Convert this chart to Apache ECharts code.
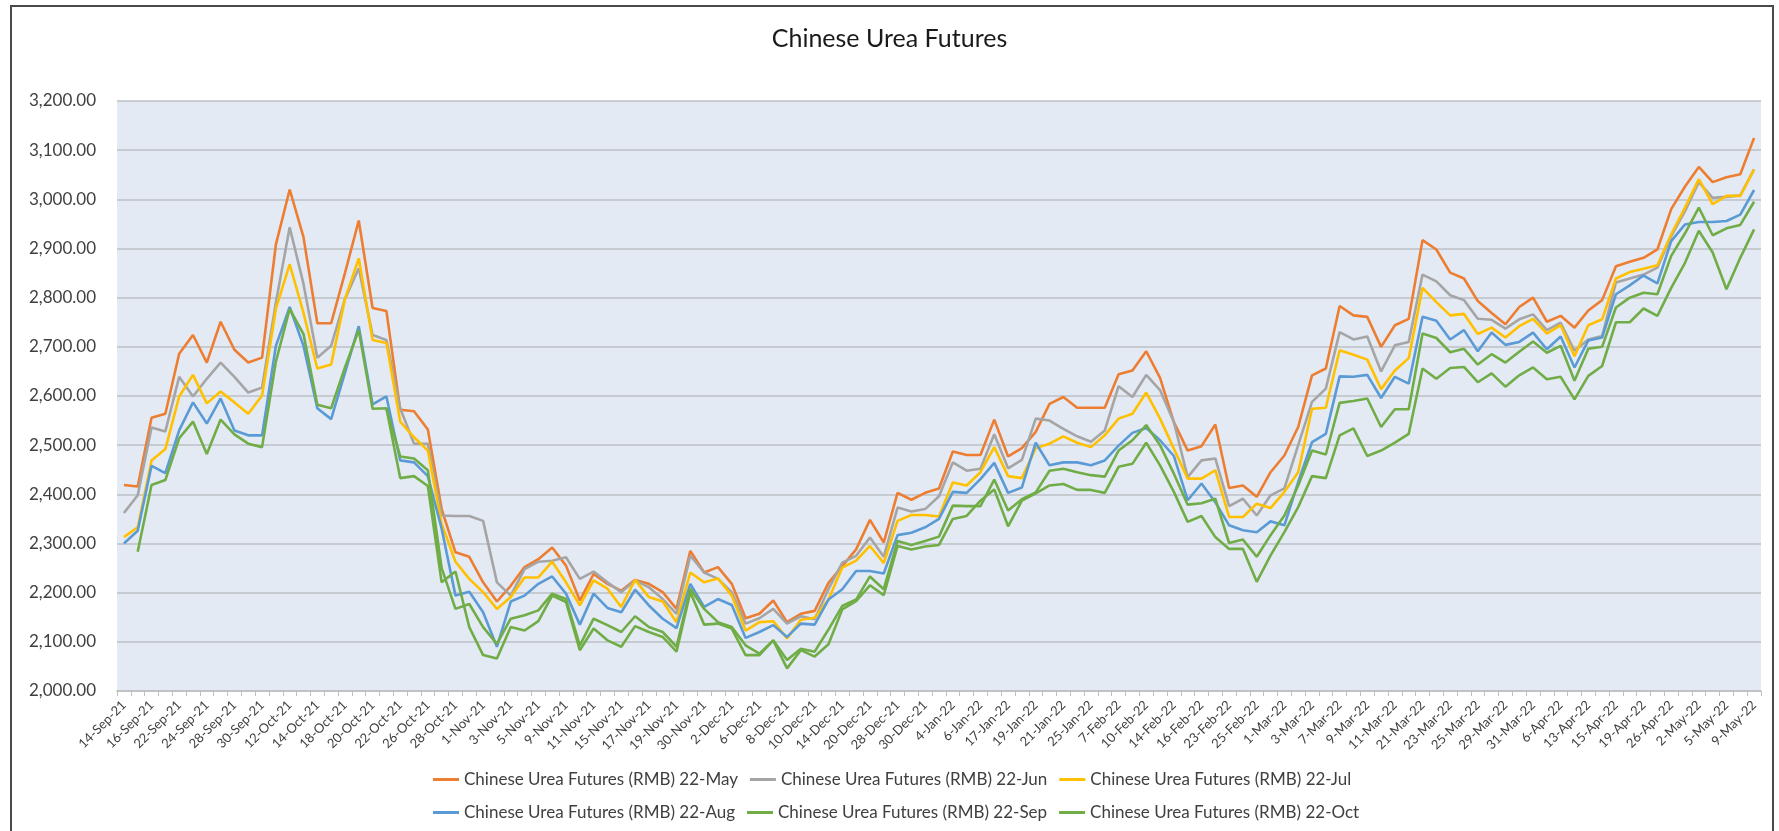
<!DOCTYPE html>
<html>
<head>
<meta charset="utf-8">
<script src="https://cdn.jsdelivr.net/npm/echarts@6/dist/echarts.min.js"></script>
<style>
html,body{margin:0;padding:0;background:#fff;}
#wrap{position:relative;width:1779px;height:831px;overflow:hidden;}
#chart{position:absolute;left:0;top:0;width:1779px;height:831px;}
#frame{position:absolute;left:10px;top:5px;width:1764px;height:900px;border:2px solid #4a4a4a;box-sizing:border-box;pointer-events:none;}
</style>
</head>
<body>
<div id="wrap"><div id="chart"></div><div id="frame"></div></div>
<script>
const dates = ["14-Sep-21","15-Sep-21","16-Sep-21","17-Sep-21","22-Sep-21","23-Sep-21","24-Sep-21","27-Sep-21","28-Sep-21","29-Sep-21",
"30-Sep-21","11-Oct-21","12-Oct-21","13-Oct-21","14-Oct-21","15-Oct-21","18-Oct-21","19-Oct-21","20-Oct-21","21-Oct-21",
"22-Oct-21","25-Oct-21","26-Oct-21","27-Oct-21","28-Oct-21","29-Oct-21","1-Nov-21","2-Nov-21","3-Nov-21","4-Nov-21",
"5-Nov-21","8-Nov-21","9-Nov-21","10-Nov-21","11-Nov-21","12-Nov-21","15-Nov-21","16-Nov-21","17-Nov-21","18-Nov-21",
"19-Nov-21","29-Nov-21","30-Nov-21","1-Dec-21","2-Dec-21","3-Dec-21","6-Dec-21","7-Dec-21","8-Dec-21","9-Dec-21",
"10-Dec-21","13-Dec-21","14-Dec-21","15-Dec-21","20-Dec-21","27-Dec-21","28-Dec-21","29-Dec-21","30-Dec-21","31-Dec-21",
"4-Jan-22","5-Jan-22","6-Jan-22","14-Jan-22","17-Jan-22","18-Jan-22","19-Jan-22","20-Jan-22","21-Jan-22","24-Jan-22",
"25-Jan-22","26-Jan-22","7-Feb-22","9-Feb-22","10-Feb-22","11-Feb-22","14-Feb-22","15-Feb-22","16-Feb-22","22-Feb-22",
"23-Feb-22","24-Feb-22","25-Feb-22","28-Feb-22","1-Mar-22","2-Mar-22","3-Mar-22","4-Mar-22","7-Mar-22","8-Mar-22",
"9-Mar-22","10-Mar-22","11-Mar-22","18-Mar-22","21-Mar-22","22-Mar-22","23-Mar-22","24-Mar-22","25-Mar-22","28-Mar-22",
"29-Mar-22","30-Mar-22","31-Mar-22","1-Apr-22","6-Apr-22","12-Apr-22","13-Apr-22","14-Apr-22","15-Apr-22","18-Apr-22",
"19-Apr-22","25-Apr-22","26-Apr-22","29-Apr-22","2-May-22","4-May-22","5-May-22","6-May-22","9-May-22"];

const may22 = [2419,2416,2556,2564,2686,2724,2668,2751,2694,2668,
2678,2908,3020,2923,2748,2748,2850,2957,2779,2773,
2572,2569,2532,2370,2282,2273,2221,2182,2214,2252,
2268,2292,2255,2184,2238,2218,2204,2226,2218,2201,
2167,2285,2241,2252,2218,2148,2157,2184,2140,2157,
2163,2220,2254,2288,2348,2302,2403,2389,2403,2412,
2487,2480,2480,2552,2477,2494,2527,2584,2598,2576,
2576,2576,2644,2652,2691,2637,2547,2489,2498,2542,
2413,2418,2395,2445,2479,2537,2642,2656,2783,2764,
2761,2700,2744,2757,2917,2898,2851,2839,2793,2769,
2746,2781,2800,2751,2763,2739,2774,2795,2864,2873,
2881,2898,2980,3026,3066,3035,3045,3051,3125];

const jun22 = [2362,2398,2536,2528,2639,2599,2635,2668,2639,2607,
2617,2790,2943,2828,2678,2702,2797,2860,2724,2714,
2575,2503,2503,2357,2356,2356,2346,2221,2194,2248,
2263,2265,2272,2228,2243,2221,2201,2225,2211,2187,
2157,2275,2241,2228,2201,2137,2148,2167,2137,2152,
2146,2207,2261,2275,2312,2273,2373,2365,2370,2396,
2465,2448,2452,2522,2453,2470,2554,2550,2533,2518,
2507,2530,2620,2598,2643,2612,2547,2435,2469,2473,
2376,2391,2357,2398,2412,2500,2588,2615,2730,2715,
2721,2650,2703,2710,2847,2833,2805,2795,2757,2755,
2737,2756,2766,2734,2749,2692,2715,2722,2831,2839,
2847,2861,2925,2976,3035,3003,3005,3008,3061];

const jul22 = [2313,2333,2469,2492,2599,2643,2585,2609,2587,2564,
2601,2777,2868,2769,2656,2664,2797,2880,2714,2708,
2548,2516,2489,2340,2263,2228,2201,2167,2191,2231,
2231,2263,2221,2174,2225,2208,2171,2226,2191,2182,
2140,2241,2221,2229,2194,2123,2140,2142,2107,2145,
2149,2186,2251,2265,2295,2260,2346,2358,2358,2355,
2424,2418,2445,2496,2437,2433,2494,2503,2518,2505,
2496,2520,2554,2564,2607,2554,2493,2432,2432,2449,
2354,2354,2381,2372,2405,2445,2574,2576,2693,2684,
2674,2614,2652,2677,2820,2791,2764,2767,2726,2739,
2719,2742,2757,2727,2744,2681,2744,2756,2839,2852,
2859,2866,2929,2983,3041,2990,3007,3007,3061];

const aug22 = [2300,2326,2458,2443,2530,2587,2544,2595,2530,2520,
2520,2702,2781,2702,2575,2553,2647,2742,2583,2599,
2469,2465,2437,2330,2194,2202,2160,2090,2182,2194,
2218,2233,2198,2135,2198,2169,2160,2206,2174,2147,
2128,2218,2171,2187,2175,2108,2120,2134,2110,2137,
2135,2186,2207,2244,2244,2239,2317,2322,2333,2350,
2405,2403,2431,2464,2403,2414,2505,2459,2465,2465,
2459,2469,2499,2525,2535,2510,2478,2388,2422,2384,
2337,2327,2323,2345,2337,2425,2506,2523,2640,2639,
2643,2596,2639,2625,2761,2753,2715,2734,2691,2729,
2704,2710,2729,2695,2721,2658,2713,2719,2807,2825,
2845,2829,2915,2949,2954,2954,2956,2969,3019];

const sep22 = [null,2283,2419,2429,2514,2548,2482,2552,2522,2503,
2496,2670,2777,2726,2582,2575,2658,2734,2574,2575,
2477,2473,2449,2250,2167,2177,2130,2096,2147,2154,
2164,2198,2187,2093,2147,2134,2120,2152,2130,2120,
2090,2208,2167,2140,2130,2093,2076,2103,2063,2086,
2080,2125,2173,2186,2233,2207,2305,2297,2305,2314,
2377,2376,2376,2430,2367,2390,2404,2448,2452,2445,
2439,2436,2489,2510,2541,2500,2442,2379,2382,2391,
2301,2308,2273,2317,2357,2418,2489,2481,2586,2590,
2595,2537,2573,2573,2727,2718,2689,2696,2664,2685,
2668,2690,2711,2688,2702,2631,2696,2700,2780,2800,
2810,2807,2885,2931,2983,2927,2941,2948,2995];

const oct22 = [null,null,null,null,null,null,null,null,null,null,
null,null,null,null,null,null,null,null,null,2575,
2433,2437,2417,2221,2243,2130,2073,2066,2130,2123,
2142,2194,2181,2083,2127,2103,2090,2132,2120,2110,
2080,2201,2135,2137,2127,2073,2073,2103,2046,2083,
2070,2095,2166,2183,2215,2195,2295,2288,2294,2297,
2350,2356,2387,2410,2335,2387,2402,2418,2421,2409,
2409,2403,2456,2462,2505,2459,2405,2344,2356,2313,
2289,2289,2222,2276,2323,2374,2437,2433,2520,2534,
2478,2489,2505,2523,2656,2635,2657,2659,2628,2646,
2619,2642,2658,2634,2639,2593,2641,2661,2750,2750,
2778,2763,2820,2871,2936,2892,2817,2881,2939];

const seriesNames = [
  "Chinese Urea Futures (RMB) 22-May",
  "Chinese Urea Futures (RMB) 22-Jun",
  "Chinese Urea Futures (RMB) 22-Jul",
  "Chinese Urea Futures (RMB) 22-Aug",
  "Chinese Urea Futures (RMB) 22-Sep",
  "Chinese Urea Futures (RMB) 22-Oct"
];
const seriesData = [may22, jun22, jul22, aug22, sep22, oct22];
const colors = ["#ED7D31","#A5A5A5","#FFC000","#5B9BD5","#70AD47","#70AD47"];

const FONT = "Lato, 'Open Sans', sans-serif";
const chart = echarts.init(document.getElementById('chart'), null, {renderer:'canvas'});

const legendCommon = {
  icon: 'rect',
  itemWidth: 26, itemHeight: 3, itemGap: 12,
  textStyle: {fontFamily: FONT, fontSize: 17, color: '#404040'},
  orient: 'horizontal'
};

chart.setOption({
  animation: false,
  color: colors,
  title: {
    text: 'Chinese Urea Futures',
    left: 'center', top: 21,
    textStyle: {fontFamily: FONT, fontSize: 25, fontWeight: 'normal', color: '#1a1a1a'}
  },
  legend: [
    Object.assign({}, legendCommon, {data: seriesNames.slice(0,3), left: 428, top: 766}),
    Object.assign({}, legendCommon, {data: seriesNames.slice(3,6), left: 428, top: 799})
  ],
  grid: {
    left: 117, right: 18, top: 101, bottom: 140,
    show: true, backgroundColor: '#E4EAF4', borderWidth: 0
  },
  xAxis: {
    type: 'category',
    data: dates,
    boundaryGap: true,
    axisLine: {show: true, lineStyle: {color: '#BFBFBF', width: 1.5}},
    axisTick: {show: true, interval: 0, length: 5, lineStyle: {color: '#BFBFBF'}},
    axisLabel: {interval: 1, rotate: 45, margin: 12, fontFamily: FONT, fontSize: 13, color: '#404040'}
  },
  yAxis: {
    type: 'value',
    min: 2000, max: 3200, interval: 100,
    axisLine: {show: false},
    axisTick: {show: false},
    axisLabel: {
      margin: 21, fontFamily: FONT, fontSize: 17, color: '#404040',
      formatter: v => v.toLocaleString('en-US', {minimumFractionDigits: 2, maximumFractionDigits: 2})
    },
    splitLine: {show: true, lineStyle: {color: '#BDC0C6', width: 1.5}}
  },
  series: seriesData.map((d, i) => ({
    name: seriesNames[i],
    type: 'line',
    data: d,
    symbol: 'none',
    connectNulls: false,
    lineStyle: {width: 2.6, color: colors[i]},
    itemStyle: {color: colors[i]}
  }))
});
</script>
</body>
</html>
